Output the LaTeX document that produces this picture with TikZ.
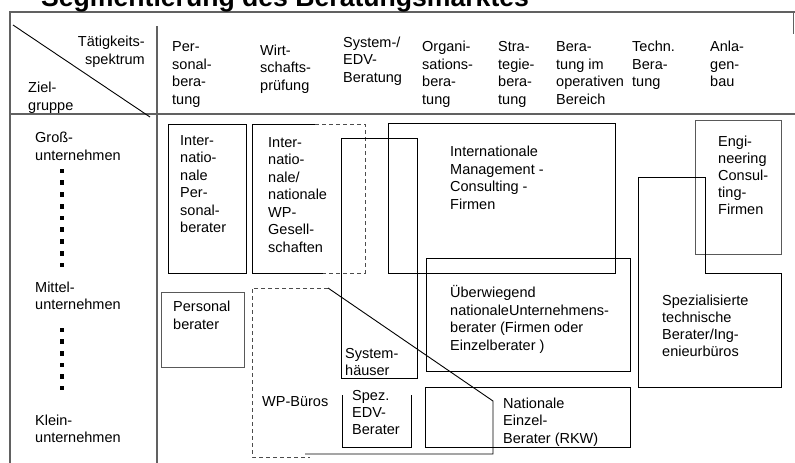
\documentclass[tikz,border=0pt]{standalone}
\usepackage{fontspec}
\setmainfont{Liberation Sans}
\begin{document}
\begin{tikzpicture}[x=1pt,y=-1pt,
  txt/.style={font=\fontsize{14.5}{17.6}\selectfont, inner sep=0pt, align=left, anchor=base west},
  frame/.style={draw=black!62, line width=1.3pt},
  box/.style={draw=black, line width=0.9pt},
  gbox/.style={draw=black!65, line width=1pt},
  dbox/.style={draw=black!70, line width=0.9pt, dash pattern=on 4pt off 3pt},
  sq/.style={fill=black, minimum size=4.6pt, inner sep=0pt}
]
\useasboundingbox (0,0) rectangle (795,463);
% frame
\draw[frame] (10,470) -- (10,12) -- (795,12);
\draw[frame] (793.5,12) -- (793.5,34);
\draw[frame] (10,114) -- (795,114);
\draw[frame] (157,26) -- (157,470);
\draw[line width=0.9pt] (13,25) -- (150,117);
% title
\node[txt, font=\bfseries\fontsize{26.6}{30}\selectfont] (title) at (41,6.5) {Segmentierung des Beratungsmarktes};
% header (anchor = baseline of the last line)
\node[txt, anchor=base east, align=right] (taet) at (145,64.1) {Tätigkeits-\\spektrum};
\node[txt] (ziel) at (28,110.1) {Ziel-\\gruppe};
\node[txt] (h1) at (172,104.5) {Per-\\sonal-\\bera-\\tung};
\node[txt] (h2) at (260,90.4) {Wirt-\\schafts-\\prüfung};
\node[txt] (h3) at (343,82.2) {System-/\\EDV-\\Beratung};
\node[txt] (h4) at (422,104.5) {Organi-\\sations-\\bera-\\tung};
\node[txt] (h5) at (498,104.5) {Stra-\\tegie-\\bera-\\tung};
\node[txt] (h6) at (556,104.5) {Bera-\\tung im\\operativen\\Bereich};
\node[txt] (h7) at (632,86.9) {Techn.\\Bera-\\tung};
\node[txt] (h8) at (710,86.9) {Anla-\\gen-\\bau};
% left column
\node[txt] (gross) at (35,160.1) {Groß-\\unternehmen};
\foreach \i in {0,...,8} \node[sq] (sqa\i) at (62,{171+\i*11.75}) {};
\node[txt] (mittel) at (35,309.6) {Mittel-\\unternehmen};
\foreach \i in {0,...,5} \node[sq] (sqb\i) at (62,{330+\i*11.6}) {};
\node[txt] (klein) at (35,442.6) {Klein-\\unternehmen};
% boxes
\draw[box] (168,124) rectangle (246,273);
\node[txt, font=\fontsize{14.5}{17.4}\selectfont] (intpers) at (180,232.5) {Inter-\\natio-\\nale\\Per-\\sonal-\\berater};
\draw[box] (315,124) -- (252,124) -- (252,273) -- (323,273);
\draw[dbox] (315,124) -- (365,124) -- (365,273) -- (323,273);
\node[txt, font=\fontsize{14.5}{17.5}\selectfont] (wpges) at (268,252) {Inter-\\natio-\\nale/\\nationale\\WP-\\Gesell-\\schaften};
\draw[box] (341,138) rectangle (417,378);
\node[txt, font=\fontsize{14.5}{17}\selectfont] (syshaus) at (345,375) {System-\\häuser};
\draw[box] (342,395) |- (411,447) -- (411,395);
\node[txt, font=\fontsize{14.5}{17.3}\selectfont] (spezedv) at (352,434.6) {Spez.\\EDV-\\Berater};
\draw[dbox] (328,288) -- (252,288) -- (252,457) -- (310,457);
\draw[box] (305,454) -- (493,454) -- (493,401) -- (328,288);
\node[txt] (wpbueros) at (262,406.5) {WP-Büros};
\draw[box] (388,123) rectangle (615,273);
\node[txt] (mgmt) at (450,209.3) {Internationale\\Management -\\Consulting -\\Firmen};
\draw[box] (426,258) rectangle (630,371);
\node[txt] (ueberw) at (450,350.2) {Überwiegend\\nationaleUnternehmens-\\berater (Firmen oder\\Einzelberater )};
\draw[box] (425,387) rectangle (630,447);
\node[txt] (natein) at (503,443.5) {Nationale\\Einzel-\\Berater (RKW)};
\draw[gbox] (695,120) rectangle (781,254);
\node[txt, font=\fontsize{14.5}{17}\selectfont] (engin) at (718,214.5) {Engi-\\neering\\Consul-\\ting-\\Firmen};
\draw[box] (638,177) -- (705,177) -- (705,273) -- (781,273) -- (781,387) -- (638,387) -- cycle;
\node[txt, font=\fontsize{14.5}{17.3}\selectfont] (speztech) at (662,356.9) {Spezialisierte\\technische\\Berater/Ing-\\enieurbüros};
\draw[gbox] (161,292) rectangle (244,367);
\node[txt] (persber) at (173,329.1) {Personal\\berater};
\end{tikzpicture}
\end{document}
